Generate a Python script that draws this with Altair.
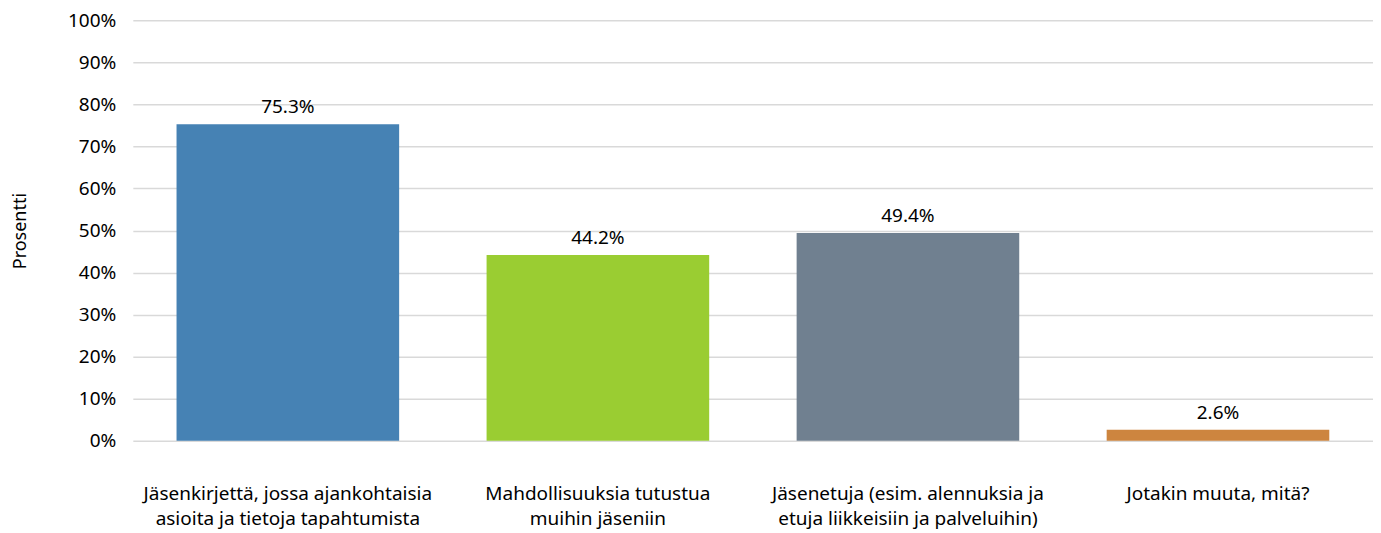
import altair as alt
import pandas as pd

categories = [
    "Jäsenkirjettä, jossa ajankohtaisia|asioita ja tietoja tapahtumista",
    "Mahdollisuuksia tutustua|muihin jäseniin",
    "Jäsenetuja (esim. alennuksia ja|etuja liikkeisiin ja palveluihin)",
    "Jotakin muuta, mitä?",
]
values = [75.3, 44.2, 49.4, 2.6]
colors = ["#4682B4", "#9ACD32", "#708090", "#CD853F"]
y_ticks = [0, 10, 20, 30, 40, 50, 60, 70, 80, 90, 100]

df = pd.DataFrame({"cat": categories, "val": values, "color": colors})
df["label"] = df["val"].map(lambda v: f"{v:.1f}%")

FONT = "Noto Sans"
FS = 19

base = alt.Chart(df).encode(
    x=alt.X(
        "cat:N",
        sort=categories,
        scale=alt.Scale(paddingInner=0.282, paddingOuter=0.141),
        axis=alt.Axis(
            title=None,
            labelAngle=0,
            labelExpr="split(datum.label, '|')",
            labelFontSize=FS,
            labelFont=FONT,
            labelColor="#000000",
            labelPadding=44,
            labelLineHeight=25,
            ticks=False,
            domain=False,
            labelLimit=400,
        ),
    )
)

bars = base.mark_bar().encode(
    y=alt.Y(
        "val:Q",
        scale=alt.Scale(domain=[0, 100]),
        axis=alt.Axis(
            title="Prosentti",
            values=y_ticks,
            labelExpr="datum.value + '%'",
            labelFontSize=FS,
            labelFont=FONT,
            labelColor="#000000",
            labelPadding=17,
            titleFont=FONT,
            titleFontSize=FS - 1,
            titleFontWeight="normal",
            titleColor="#000000",
            titlePadding=38,
            ticks=False,
            domain=False,
            grid=True,
            gridColor="#d9d9d9",
            gridWidth=1.5,
        ),
    ),
    color=alt.Color("color:N", scale=None),
)

text = base.mark_text(
    baseline="bottom", dy=-7, fontSize=FS, font=FONT, color="#000000"
).encode(y="val:Q", text="label:N")

chart = (
    alt.layer(bars, text)
    .properties(
        width=1242,
        height=421,
        autosize=alt.AutoSizeParams(type="none"),
        padding={"left": 125, "top": 12, "right": 0, "bottom": 90},
    )
    .configure_view(stroke=None)
)

chart.save("out.html", embed_options={"renderer": "svg", "actions": False})
